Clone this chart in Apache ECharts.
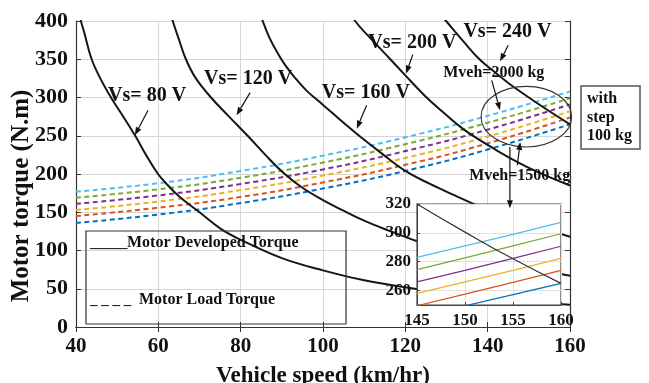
<!DOCTYPE html>
<html>
<head>
<meta charset="utf-8">
<script src="https://cdn.jsdelivr.net/npm/echarts@6/dist/echarts.min.js"></script>
<style>html,body{margin:0;padding:0;background:#fff}#c{width:649px;height:383px}</style>
</head>
<body>
<div id="c"></div>
<script>
// ---- data ----
const xTicks = [40, 60, 80, 100, 120, 140, 160];
const yTicks = [0, 50, 100, 150, 200, 250, 300, 350, 400];

// Motor developed torque curves: [speed km/h, torque N.m]
const vs80  = [[40,427],[41.2,400],[42,385],[43.8,350],[46,324],[48.5,300],[51,279],[54.6,248],[57,225],[59.8,201],[62,187],[65,171],[70,150],[75,129],[80,114],[90,90],[100,74],[110,61],[120,52],[130,44],[140,38],[150,33],[160,29]];
const vs120 = [[62,428],[63.5,400],[65,376],[66.7,350],[69,326],[72.8,300],[77,276],[81.7,250],[86,225],[90.5,201],[95,182],[100,166],[105,152],[110,139],[116,126],[122.9,112],[130,100],[140,88],[150,77],[160,67]];
const vs160 = [[84,422],[85.35,400],[87,378],[89,358],[91,341],[93,327],[96,309],[99,295],[102,281],[105,267],[109,249],[114,228],[120,204],[126,187],[132,172],[137,160],[143,148],[150,135],[160,118]];
const vs200 = [[105,425],[107.8,400],[112.5,372],[116,352],[120,329],[124.6,303],[128.7,283],[134,259],[140,238],[145,222],[150,208],[155,196],[160,185]];
const vs240 = [[128,412],[129.9,400],[134,374],[138,350],[142,332],[145,319],[150,300],[155,282],[160,265]];

// Motor load torque (dashed), Mveh 1500..2000 kg
const loadSpeeds = [40, 60, 80, 100, 120, 140, 160];
const load1500 = [136, 147, 162, 181, 204, 232, 265];
const load1600 = [145, 156, 170, 189, 212, 240, 274];
const load1700 = [153, 164, 179, 198, 221, 249, 282];
const load1800 = [161, 172, 187, 206, 230, 258, 291];
const load1900 = [169, 180, 195, 215, 239, 267, 299];
const load2000 = [177, 188, 204, 224, 248, 276, 308];

// Inset (zoom 145..160)
const insetSpeeds = [145, 150, 155, 160];
const inset1500 = [241.2, 249.4, 257.2, 265];
const inset1600 = [249.5, 257.5, 265.7, 274];
const inset1700 = [258, 266, 274, 282.3];
const inset1800 = [266, 274, 282.3, 290.7];
const inset1900 = [274.5, 282.7, 291, 299.4];
const inset2000 = [283, 291, 299, 307.3];
const insetVs240 = [320, 300.5, 282, 265];

const massColors = ['#0072BD', '#D95319', '#EDB120', '#7E2F8E', '#77AC30', '#4DBEEE'];
// ---------------------------------------

const FONT = '"Liberation Serif","Times New Roman",serif';
const TXT = '#111';
const pairs = (xs, ys) => xs.map((x, i) => [x, ys[i]]);

const chart = echarts.init(document.getElementById('c'), null, {renderer: 'canvas'});

const mainAxisCommon = {
  type: 'value',
  axisLine: {show: true, lineStyle: {color: '#333', width: 1.2}},
  axisTick: {show: true, inside: true, length: 5, lineStyle: {color: '#333'}},
};

const loadSets = [load1500, load1600, load1700, load1800, load1900, load2000];
const insetSets = [inset1500, inset1600, inset1700, inset1800, inset1900, inset2000];
const vsSets = [vs80, vs120, vs160, vs200, vs240];

const series = [];
loadSets.forEach((ys, i) => {
  series.push({
    type: 'line', xAxisIndex: 0, yAxisIndex: 0, data: pairs(loadSpeeds, ys),
    smooth: true, showSymbol: false, z: 4,
    lineStyle: {color: massColors[i], width: 2, type: [5, 3.5]}
  });
});
vsSets.forEach(d => {
  series.push({
    type: 'line', xAxisIndex: 0, yAxisIndex: 0, data: d,
    smooth: 0.4, showSymbol: false, z: 5, clip: true,
    lineStyle: {color: '#161616', width: 2}
  });
});
insetSets.forEach((ys, i) => {
  series.push({
    type: 'line', xAxisIndex: 2, yAxisIndex: 2, data: pairs(insetSpeeds, ys),
    showSymbol: false, z: 22, clip: true,
    lineStyle: {color: massColors[i], width: 1.2}
  });
});
series.push({
  type: 'line', xAxisIndex: 2, yAxisIndex: 2, data: pairs(insetSpeeds, insetVs240),
  showSymbol: false, z: 22, clip: true, smooth: true,
  lineStyle: {color: '#333', width: 1.2}
});

const option = {
  animation: false,
  backgroundColor: '#fff',
  grid: [
    {left: 76, top: 21, width: 494, height: 306, show: false, containLabel: false, outerBoundsMode: 'none'},
    {left: 417, top: 204, width: 144, height: 101, show: true, backgroundColor: '#fff',
     borderColor: '#444', borderWidth: 1.2, z: 20, containLabel: false, outerBoundsMode: 'none'}
  ],
  xAxis: [
    Object.assign({}, mainAxisCommon, {
      gridIndex: 0, min: xTicks[0], max: xTicks[xTicks.length - 1], interval: 20, position: 'bottom',
      axisLabel: {fontFamily: FONT, fontWeight: 'bold', fontSize: 21, color: TXT, margin: 9},
      splitLine: {show: true, lineStyle: {color: '#d6d6d6', width: 1}},
      name: 'Vehicle speed (km/hr)', nameLocation: 'middle', nameGap: 38,
      nameTextStyle: {fontFamily: FONT, fontWeight: 'bold', fontSize: 23, color: TXT}
    }),
    Object.assign({}, mainAxisCommon, {
      gridIndex: 0, min: 40, max: 160, interval: 20, position: 'top',
      axisLabel: {show: false}, splitLine: {show: false}
    }),
    {
      type: 'value', gridIndex: 1, min: 145, max: 160, interval: 5, z: 21,
      axisLine: {show: true, lineStyle: {color: '#444'}},
      axisTick: {show: true, inside: true, length: 3, lineStyle: {color: '#444'}},
      axisLabel: {fontFamily: FONT, fontWeight: 'bold', fontSize: 17, color: TXT, margin: 7},
      splitLine: {show: true, lineStyle: {color: '#e0e0e0'}}
    }
  ],
  yAxis: [
    Object.assign({}, mainAxisCommon, {
      gridIndex: 0, min: yTicks[0], max: yTicks[yTicks.length - 1], interval: 50, position: 'left',
      axisLabel: {fontFamily: FONT, fontWeight: 'bold', fontSize: 22, color: TXT, margin: 8},
      splitLine: {show: true, lineStyle: {color: '#d6d6d6', width: 1}}
    }),
    Object.assign({}, mainAxisCommon, {
      gridIndex: 0, min: 0, max: 400, interval: 50, position: 'right',
      axisLabel: {show: false}, splitLine: {show: false}
    }),
    {
      type: 'value', gridIndex: 1, min: 250, max: 320, splitNumber: 3, z: 21,
      axisLine: {show: true, lineStyle: {color: '#444'}},
      axisTick: {show: true, inside: true, length: 3, lineStyle: {color: '#444'}},
      axisLabel: {fontFamily: FONT, fontWeight: 'bold', fontSize: 17, color: TXT, margin: 6, showMinLabel: false},
      splitLine: {show: true, lineStyle: {color: '#e0e0e0'}}
    }
  ],
  series: series
};
chart.setOption(option);

// ---- annotations (positioned in data coordinates) ----
const P = (x, y) => chart.convertToPixel({xAxisIndex: 0, yAxisIndex: 0}, [x, y]);
const g = [];
function text(x, y, str, size, align) {
  const p = P(x, y);
  g.push({type: 'text', x: p[0], y: p[1], z: 40,
    style: {text: str, font: 'bold ' + size + 'px ' + FONT, fill: TXT, align: align || 'left', verticalAlign: 'middle'}});
}
function arrow(a, b) {
  const p0 = P(a[0], a[1]), p1 = P(b[0], b[1]);
  const dx = p1[0] - p0[0], dy = p1[1] - p0[1], L = Math.hypot(dx, dy);
  const ux = dx / L, uy = dy / L, hl = 8, hw = 3;
  const bx = p1[0] - ux * hl, by = p1[1] - uy * hl;
  g.push({type: 'line', z: 40, shape: {x1: p0[0], y1: p0[1], x2: bx, y2: by}, style: {stroke: '#111', lineWidth: 1.2}});
  g.push({type: 'polygon', z: 40, shape: {points: [[p1[0], p1[1]], [bx - uy * hw, by + ux * hw], [bx + uy * hw, by - ux * hw]]}, style: {fill: '#111'}});
}

// y-axis title
g.push({type: 'text', x: 22, y: 196, rotation: Math.PI / 2, z: 40,
  style: {text: 'Motor torque (N.m)', font: 'bold 25px ' + FONT, fill: TXT, align: 'center', verticalAlign: 'middle'}});

text(47.8, 301.6, 'Vs= 80 V', 20);
arrow([57.5, 283.3], [54.3, 250.6]);
text(71.1, 323.8, 'Vs= 120 V', 20);
arrow([82.3, 306.4], [79.0, 276.8]);
text(99.7, 306.1, 'Vs= 160 V', 20);
arrow([110.6, 289.8], [108.2, 259.3]);
text(111.0, 371.5, 'Vs= 200 V', 20);
arrow([121.8, 356.1], [120.2, 331.3]);
text(134.1, 385.6, 'Vs= 240 V', 20);
arrow([145.0, 368.2], [143.0, 347.3]);
text(129.2, 332.3, 'Mveh=2000 kg', 16);
arrow([141.0, 322.5], [143.0, 283.3]);
text(135.5, 197.3, 'Mveh=1500 kg', 16);
arrow([147.2, 211.4], [147.9, 241.8]);
arrow([145.4, 235.3], [145.4, 155.2]);

// ellipse around the load curves
const ec = P(149.4, 275.0);
g.push({type: 'ellipse', z: 39, shape: {cx: ec[0], cy: ec[1], rx: 45.3, ry: 30.3}, style: {fill: 'none', stroke: '#333', lineWidth: 1.1}});

// legend box
g.push({type: 'rect', z: 30, shape: {x: 86, y: 231, width: 260, height: 93}, style: {fill: 'none', stroke: '#333', lineWidth: 1.2}});
const lf = 'bold 16px ' + FONT;
g.push({type: 'text', z: 31, x: 90, y: 243, style: {text: '_____', font: 'bold 15px ' + FONT, fill: TXT, verticalAlign: 'middle'}});
g.push({type: 'text', z: 31, x: 127, y: 243, style: {text: 'Motor Developed Torque', font: lf, fill: TXT, verticalAlign: 'middle'}});
g.push({type: 'text', z: 31, x: 90, y: 300, style: {text: '_ _ _ _', font: 'bold 15px ' + FONT, fill: TXT, verticalAlign: 'middle'}});
g.push({type: 'text', z: 31, x: 139, y: 300, style: {text: 'Motor Load Torque', font: lf, fill: TXT, verticalAlign: 'middle'}});

// side note box
g.push({type: 'rect', z: 30, shape: {x: 581, y: 86, width: 59, height: 63}, style: {fill: '#fff', stroke: '#555', lineWidth: 1.5}});
const sf = 'bold 16px ' + FONT;
['with', 'step', '100 kg'].forEach((s, i) => {
  g.push({type: 'text', z: 31, x: 587, y: 99 + i * 18.5, style: {text: s, font: sf, fill: TXT, verticalAlign: 'middle'}});
});

chart.setOption({graphic: g});
</script>
</body>
</html>
